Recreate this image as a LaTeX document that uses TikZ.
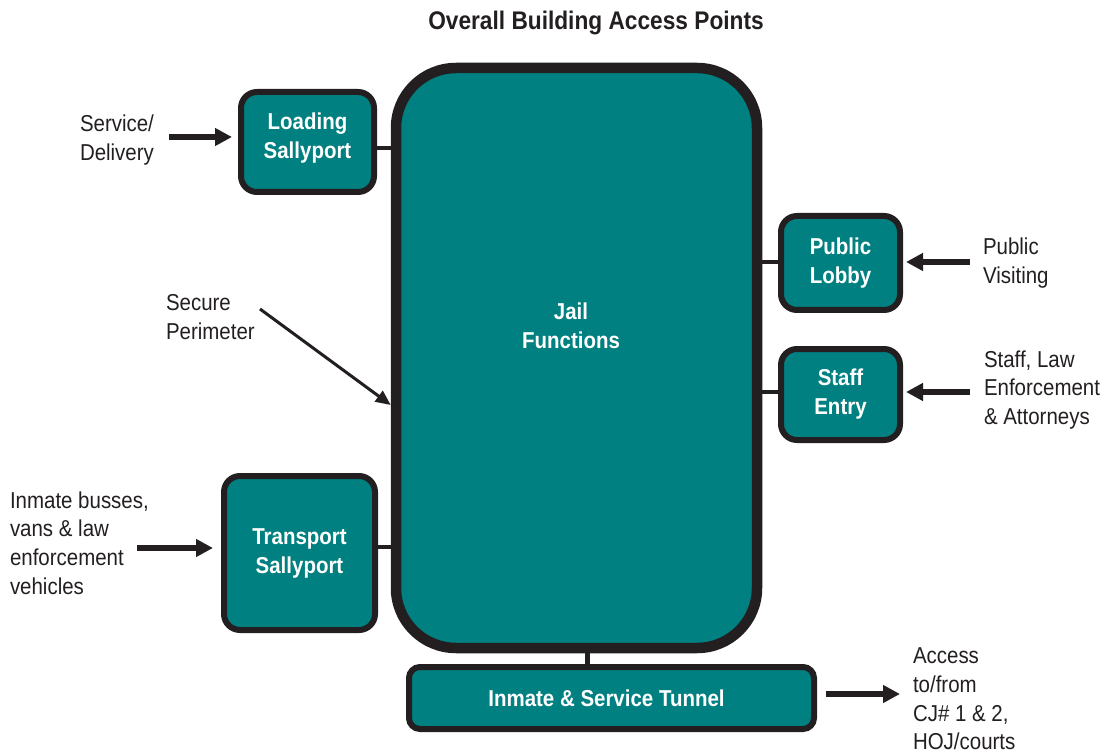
\documentclass[tikz,border=0pt]{standalone}
\usepackage{fontspec}
\setmainfont{Liberation Sans}[FakeStretch=0.89]
\usetikzlibrary{arrows.meta}
\definecolor{tealbox}{RGB}{0,128,128}
\definecolor{edge}{RGB}{35,31,32}
\begin{document}
\begin{tikzpicture}[x=1pt,y=-1pt,
  every node/.style={inner sep=0pt, outer sep=auto},
  box/.style={draw=edge, fill=tealbox, line width=6pt, rounded corners=16pt,
    text=white, font=\fontsize{23}{29}\selectfont\bfseries, align=center},
  lbl/.style={text=edge, font=\fontsize{23}{28.7}\selectfont, align=left, anchor=west},
  conn/.style={draw=edge, line width=4.5pt},
  arr/.style={draw=edge, line width=6pt, -{Triangle[length=17pt,width=17pt]}},
  thinarr/.style={draw=edge, line width=3pt, -{Triangle[length=15pt,width=13pt]}}]
\useasboundingbox (0,0) rectangle (1104,754);
% title
\node[text=edge, font=\fontsize{25.5}{29}\selectfont\bfseries] (title) at (596,23) {Overall Building Access Points};
% main box
\node[draw=edge, fill=tealbox, line width=10.5pt, rounded corners=60pt,
  minimum width=361pt, minimum height=580pt] (main) at (576.5,358) {};
\node[text=white, font=\fontsize{23}{29}\selectfont\bfseries, align=center] (jailtext) at (571,326) {Jail\\Functions};
% sub boxes
\node[box, minimum width=133pt, minimum height=100pt] (load) at (307.5,142) {Loading\\Sallyport\\[-16pt]\mbox{}};
\node[box, minimum width=119pt, minimum height=94pt] (lobby) at (840.5,263) {Public\\Lobby};
\node[box, minimum width=119pt, minimum height=91pt] (staff) at (840.5,394.5) {Staff\\Entry};
\node[box, minimum width=151pt, minimum height=154pt] (trans) at (299.5,553) {Transport\\Sallyport};
\node[box, rounded corners=11pt, minimum width=405pt, minimum height=62pt] (tunnel) at (611.5,698) {Inmate \& Service Tunnel\hspace*{10pt}};
% connectors between boxes
\draw[conn] (load.east |- 0,148) -- (main.west |- 0,148);
\draw[conn] (trans.east |- 0,547) -- (main.west |- 0,547);
\draw[conn] (lobby.west |- 0,262) -- (main.east |- 0,262);
\draw[conn] (staff.west |- 0,392) -- (main.east |- 0,392);
\draw[draw=edge, line width=5pt] (main.south -| 587,0) -- (tunnel.north -| 587,0);
% labels
\node[lbl] (svc) at (80,140) {Service/\\Delivery};
\node[lbl] (pubv) at (983,263) {Public\\Visiting};
\node[lbl] (stafft) at (984,390) {Staff, Law\\Enforcement\\\& Attorneys};
\node[lbl] (secp) at (166,317) {Secure\\Perimeter};
\node[lbl] (inm) at (10,543) {Inmate busses,\\vans \& law\\enforcement\\vehicles};
\node[lbl] (acc) at (913,699) {Access\\to/from\\CJ\# 1 \& 2,\\HOJ/courts};
% arrows
\coordinate (svcA) at (169,137);
\draw[arr, shorten >=6pt] (svcA) -- (svcA -| load.west);
\coordinate (pubA) at (970,262);
\draw[arr, shorten >=3pt] (pubA) -- (pubA -| lobby.east);
\coordinate (stfA) at (970,392);
\draw[arr, shorten >=3pt] (stfA) -- (stfA -| staff.east);
\coordinate (inmA) at (137,548);
\draw[arr, shorten >=8pt] (inmA) -- (inmA -| trans.west);
\coordinate (accA) at (900,694);
\draw[arr, shorten <=9pt] (tunnel.east |- accA) -- (accA);
\coordinate (spA) at (260,309);
\draw[thinarr] (spA) -- (main.west |- 0,405);
\end{tikzpicture}
\end{document}
